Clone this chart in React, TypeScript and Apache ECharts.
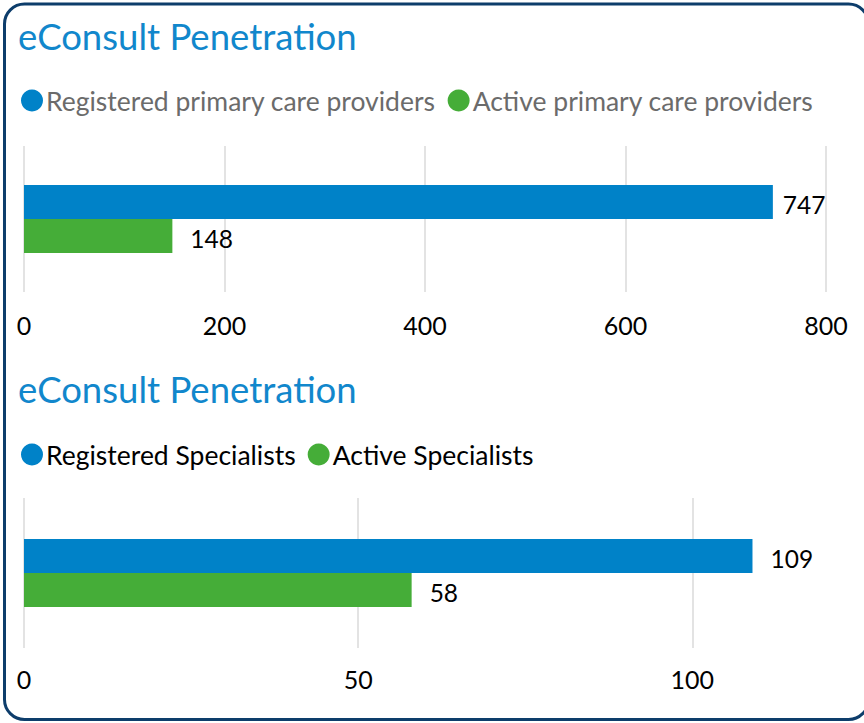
import React, { useEffect, useRef } from "react";
import * as echarts from "echarts";

const titleText = "eConsult Penetration";
const categories = ["Providers"];
const primaryNames = ["Registered primary care providers", "Active primary care providers"];
const primaryRegistered = [747];
const primaryActive = [148];
const primaryTicks = { min: 0, max: 800, interval: 200 };

const specialistNames = ["Registered Specialists", "Active Specialists"];
const specialistRegistered = [109];
const specialistActive = [58];
const specialistTicks = { min: 0, max: 120, interval: 50 };

const BLUE = "#0082c8";
const GREEN = "#45ad38";
const FONT = "Lato";

export default function App() {
  const ref = useRef<HTMLDivElement>(null);
  useEffect(() => {
    document.body.style.margin = "0";
    const chart = echarts.init(ref.current!, null, { renderer: "svg" });
    const axisLabel = { color: "#000", fontSize: 25, fontFamily: FONT, margin: 20 };
    const labelBase = { show: true, position: "right", distance: 18, offset: [0, 2], color: "#000", fontSize: 24.5, fontFamily: FONT };
    const titleStyle = { color: "#1187cc", fontSize: 36.5, fontWeight: "normal", fontFamily: FONT };
    chart.setOption({
      animation: false,
      backgroundColor: "#fff",
      title: [
        { text: titleText, left: 13, top: 12, textStyle: titleStyle },
        { text: titleText, left: 13, top: 365, textStyle: titleStyle },
      ],
      legend: [
        {
          data: primaryNames, left: 16, top: 82, icon: "circle", itemWidth: 22, itemHeight: 22, itemGap: 12,
          textStyle: { color: "#6b6b6b", fontSize: 26.5, fontFamily: FONT, padding: [0, 0, 0, -2] },
        },
        {
          data: specialistNames, left: 16, top: 436, icon: "circle", itemWidth: 22, itemHeight: 22, itemGap: 12,
          textStyle: { color: "#000", fontSize: 26.5, fontFamily: FONT, padding: [0, 0, 0, -2] },
        },
      ],
      grid: [
        { left: 24, right: 38, top: 146, height: 146 },
        { left: 24, right: 38, top: 498, height: 150 },
      ],
      xAxis: [
        {
          type: "value", gridIndex: 0, ...primaryTicks,
          axisLine: { show: false }, axisTick: { show: false },
          splitLine: { lineStyle: { color: "#e3e3e3", width: 2 } }, axisLabel,
        },
        {
          type: "value", gridIndex: 1, ...specialistTicks,
          axisLine: { show: false }, axisTick: { show: false },
          splitLine: { lineStyle: { color: ["#e3e3e3", "#e3e3e3", "#e3e3e3", "rgba(0,0,0,0)"], width: 2 } },
          axisLabel: { ...axisLabel, margin: 18, formatter: (v: number) => (v === 120 ? "" : String(v)) },
        },
      ],
      yAxis: [
        { type: "category", gridIndex: 0, data: categories, inverse: true, show: false },
        { type: "category", gridIndex: 1, data: categories, inverse: true, show: false },
      ],
      series: [
        {
          name: primaryNames[0], type: "bar", xAxisIndex: 0, yAxisIndex: 0, barWidth: 34, barGap: "0%",
          itemStyle: { color: BLUE },
          data: primaryRegistered.map((v) => ({ value: v, label: { distance: 10 } })), label: labelBase,
        },
        {
          name: primaryNames[1], type: "bar", xAxisIndex: 0, yAxisIndex: 0, barWidth: 34, barGap: "0%",
          itemStyle: { color: GREEN }, data: primaryActive, label: labelBase,
        },
        {
          name: specialistNames[0], type: "bar", xAxisIndex: 1, yAxisIndex: 1, barWidth: 34, barGap: "0%",
          itemStyle: { color: BLUE }, data: specialistRegistered, label: labelBase,
        },
        {
          name: specialistNames[1], type: "bar", xAxisIndex: 1, yAxisIndex: 1, barWidth: 34, barGap: "0%",
          itemStyle: { color: GREEN }, data: specialistActive, label: labelBase,
        },
      ],
      graphic: [
        {
          type: "rect", silent: true, z: 100,
          shape: { x: 4.5, y: 4, width: 864, height: 715.5, r: 20 },
          style: { fill: "none", stroke: "#0d3d6b", lineWidth: 3 },
        },
      ],
    });
    return () => chart.dispose();
  }, []);
  return <div ref={ref} style={{ width: 864, height: 723, position: "absolute", left: 0, top: 0 }} />;
}
